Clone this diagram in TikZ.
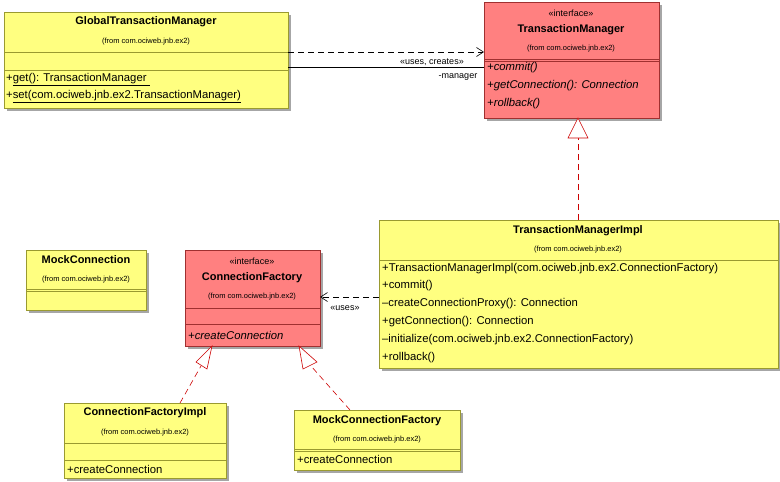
\documentclass[tikz,border=0pt]{standalone}
\usepackage{fontspec}
\setmainfont{Liberation Sans}
\usetikzlibrary{arrows.meta}
\definecolor{yel}{HTML}{FFFF80}
\definecolor{pnk}{HTML}{FF8080}
\definecolor{yb}{HTML}{9A9A30}
\definecolor{pb}{HTML}{A03030}
\definecolor{rl}{HTML}{CC0000}
\begin{document}
\begin{tikzpicture}[x=1pt,y=-1pt,
 ybox/.style={fill=yel,draw=yb,line width=0.6pt},
 pbox/.style={fill=pnk,draw=pb,line width=0.6pt},
 sh/.style={fill=black!35},
 ttl/.style={font=\fontsize{11}{12}\selectfont\bfseries},
 frm/.style={font=\fontsize{7.5}{8}\selectfont},
 ster/.style={font=\fontsize{9}{10}\selectfont},
 mth/.style={font=\fontsize{11.3}{12}\selectfont,anchor=west,inner sep=0pt},
 dv/.style={line width=0.5pt},
 dep/.style={dashed,dash pattern=on 6pt off 4pt,line width=0.6pt,-{Straight Barb[length=7pt,width=9pt]}},
 real/.style={rl,dash pattern=on 6pt off 4pt,line width=0.6pt},
 tri/.style={draw=rl,fill=white,line width=0.6pt}]
\useasboundingbox (0,0) rectangle (780,482);
% shadows
\foreach \a/\b/\c/\d in {4/12/288/108, 484/2/659/118, 379/220/778/368, 26/250/146/310, 185/250/320/346, 64/403/226/478, 294/410/460/470}
 \fill[sh] (\a+3,\b+3) rectangle (\c+3,\d+3);
% GlobalTransactionManager
\draw[ybox] (4,12) rectangle (288,108);
\node[ttl] (gtm) at (146,22) {GlobalTransactionManager};
\node[frm] at (146,42) {(from com.ociweb.jnb.ex2)};
\draw[yb,dv] (4,52) -- (288,52); \draw[yb,dv] (4,70) -- (288,70);
\node[mth] at (6,80) {+\underline{get(): TransactionManager\ }};
\node[mth] at (6,97) {+\underline{set(com.ociweb.jnb.ex2.TransactionManager)}};
% TransactionManager
\draw[pbox] (484,2) rectangle (659,118);
\node[ster] at (571,13) {«interface»};
\node[ttl] (tm) at (571,30) {TransactionManager};
\node[frm] at (571,49) {(from com.ociweb.jnb.ex2)};
\draw[pb,dv] (484,59) -- (659,59); \draw[pb,dv] (484,61) -- (659,61);
\node[mth] at (487,68) {\itshape +commit()};
\node[mth] at (487,86) {\itshape +getConnection(): Connection};
\node[mth] at (487,104) {\itshape +rollback()};
% TransactionManagerImpl
\draw[ybox] (379,220) rectangle (778,368);
\node[ttl] (tmi) at (578,231) {TransactionManagerImpl};
\node[frm] at (578,250) {(from com.ociweb.jnb.ex2)};
\draw[yb,dv] (379,260) -- (778,260);
\node[mth] at (382,269) {+TransactionManagerImpl(com.ociweb.jnb.ex2.ConnectionFactory)};
\node[mth] at (382,286) {+commit()};
\node[mth] at (382,304) {--createConnectionProxy(): Connection};
\node[mth] at (382,322) {+getConnection(): Connection};
\node[mth] at (382,340) {--initialize(com.ociweb.jnb.ex2.ConnectionFactory)};
\node[mth] at (382,358) {+rollback()};
% MockConnection
\draw[ybox] (26,250) rectangle (146,310);
\node[ttl] (mc) at (86,260) {MockConnection};
\node[frm] at (86,280) {(from com.ociweb.jnb.ex2)};
\draw[yb,dv] (26,289) -- (146,289); \draw[yb,dv] (26,291) -- (146,291);
% ConnectionFactory
\draw[pbox] (185,250) rectangle (320,346);
\node[ster] at (252,261) {«interface»};
\node[ttl] (cf) at (252,278) {ConnectionFactory};
\node[frm] at (252,297) {(from com.ociweb.jnb.ex2)};
\draw[pb,dv] (185,308) -- (320,308); \draw[pb,dv] (185,324) -- (320,324);
\node[mth] at (188,335) {\itshape +createConnection};
% ConnectionFactoryImpl
\draw[ybox] (64,403) rectangle (226,478);
\node[ttl] (cfi) at (145,413) {ConnectionFactoryImpl};
\node[frm] at (145,433) {(from com.ociweb.jnb.ex2)};
\draw[yb,dv] (64,443) -- (226,443); \draw[yb,dv] (64,460) -- (226,460);
\node[mth] at (67,469) {+createConnection};
% MockConnectionFactory
\draw[ybox] (294,410) rectangle (460,470);
\node[ttl] (mcf) at (377,421) {MockConnectionFactory};
\node[frm] at (377,440) {(from com.ociweb.jnb.ex2)};
\draw[yb,dv] (294,449) -- (460,449); \draw[yb,dv] (294,451) -- (460,451);
\node[mth] at (297,459) {+createConnection};
% connectors
\coordinate (a1) at (288,52); \coordinate (a2) at (484,52);
\draw[dep] (a1) -- (a2);
\coordinate (b1) at (288,67); \coordinate (b2) at (484,67);
\draw[line width=0.6pt] (b1) -- (b2);
\node[ster,fill=white,inner sep=1pt] at (432,62) {«uses, creates»};
\node[ster] at (458,77) {-manager};
\coordinate (c1) at (578,220); \coordinate (c2) at (578,138);
\draw[real] (c1) -- (c2);
\draw[tri] (578,118) -- (568,138) -- (588,138) -- cycle;
\coordinate (d1) at (379,297); \coordinate (d2) at (320,297);
\draw[dep] (d1) -- (d2);
\node[ster] at (345,308) {«uses»};
\coordinate (e1) at (180,403); \coordinate (e2) at (201,366);
\draw[real] (e1) -- (e2);
\draw[tri] (212,346) -- (196,362) -- (207,369) -- cycle;
\coordinate (f1) at (350,410); \coordinate (f2) at (311,366);
\draw[real] (f1) -- (f2);
\draw[tri] (299,346) -- (303,369) -- (317,362) -- cycle;
\end{tikzpicture}
\end{document}
